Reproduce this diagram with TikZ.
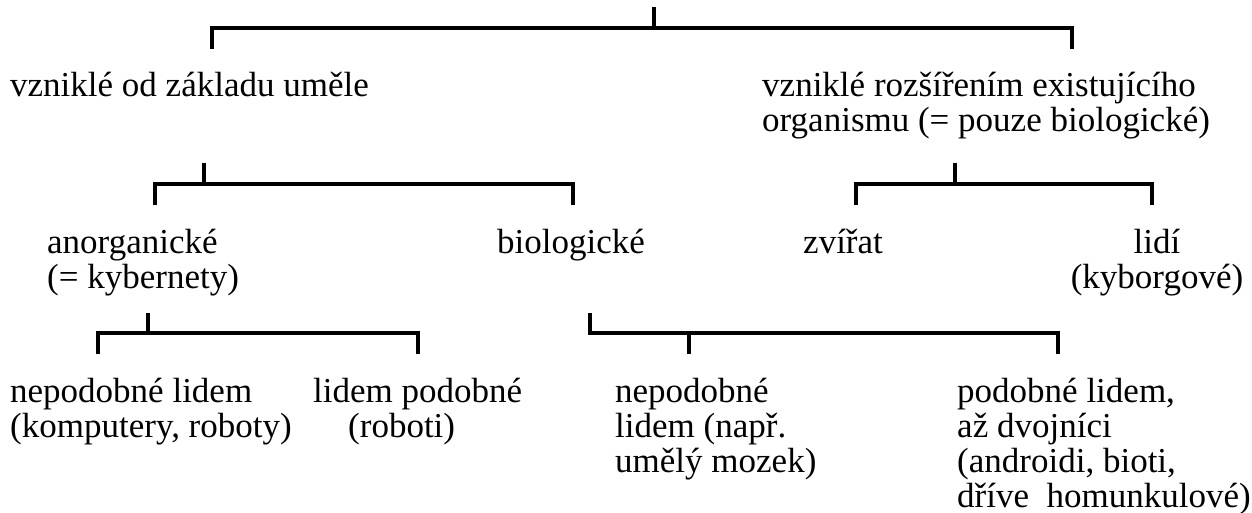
\documentclass[tikz,border=0pt]{standalone}
\usepackage{fontspec}
\setmainfont{Liberation Serif}
\newcommand{\lines}[2][l]{\begin{tabular}[t]{@{}#1@{}}#2\end{tabular}}
\begin{document}
\begin{tikzpicture}[x=1pt,y=-1pt,
  br/.style={line width=3.2pt, line cap=butt, line join=miter},
  lbl/.style={inner sep=0pt, anchor=base west, font=\fontsize{35}{35}\selectfont},
  lblc/.style={inner sep=0pt, anchor=base, font=\fontsize{35}{35}\selectfont}]
\useasboundingbox (0,0) rectangle (1252,513);
% labels
\node[lbl] (a) at (10,97) {vzniklé od základu uměle};
\node[lbl] (b) at (762,97) {\lines{vzniklé rozšířením existujícího\\organismu (= pouze biologické)}};
\node[lbl] (aa) at (47,253) {\lines{anorganické\\(= kybernety)}};
\node[lbl] (ab) at (497,253) {biologické};
\node[lbl] (ba) at (803,253) {zvířat};
\node[lblc] (bb) at (1157,253) {\lines[c]{lidí\\(kyborgové)}};
\node[lbl] (aaa) at (10,402) {\lines{nepodobné lidem\\(komputery, roboty)}};
\node[lbl] (aab) at (313,402) {\lines{lidem podobné\\\hspace*{35pt}(roboti)}};
\node[lbl] (aba) at (615,402) {\lines{nepodobné\\lidem (např.\\umělý mozek)}};
\node[lbl] (abb) at (957,402) {\lines{podobné lidem,\\až dvojníci\\(androidi, bioti,\\dříve\ \ homunkulové)}};
% bracket coordinates
\coordinate (r0) at (654,7);   \coordinate (r1) at (654,28);
\coordinate (rl) at (212,49);  \coordinate (rr) at (1072,49);
\coordinate (a0) at (204,163); \coordinate (a1) at (204,184);
\coordinate (al) at (155,205); \coordinate (ar) at (573,205);
\coordinate (b0) at (955,163); \coordinate (b1) at (955,184);
\coordinate (bl) at (856,205); \coordinate (brr) at (1152,205);
\coordinate (c0) at (148,313); \coordinate (c1) at (148,333);
\coordinate (cl) at (98,354);  \coordinate (cr) at (418,354);
\coordinate (d0) at (590,313); \coordinate (d1) at (590,333);
\coordinate (dl) at (689,354); \coordinate (dr) at (1058,354);
% brackets
\draw[br] (r0) -- (r1);
\draw[br] (rl) |- (rr |- r1) -- (rr);
\draw[br] (a0) -- (a1);
\draw[br] (al) |- (ar |- a1) -- (ar);
\draw[br] (b0) -- (b1);
\draw[br] (bl) |- (brr |- b1) -- (brr);
\draw[br] (c0) -- (c1);
\draw[br] (cl) |- (cr |- c1) -- (cr);
\draw[br] (d0) -- (d1) -- (dr |- d1) -- (dr);
\draw[br] (dl |- d1) -- (dl);
\end{tikzpicture}
\end{document}
